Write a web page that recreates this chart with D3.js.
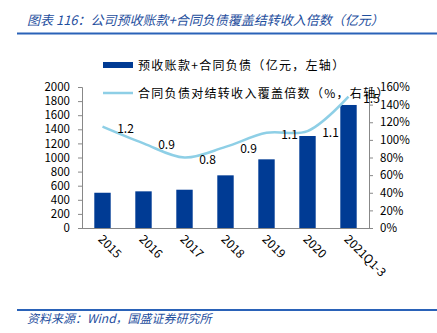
<!DOCTYPE html>
<html><head><meta charset="utf-8">
<script src="https://cdn.jsdelivr.net/npm/d3@7"></script>
<style>body{margin:0;background:#fff}svg{display:block}text{font-family:"Noto Sans CJK SC","DejaVu Sans",sans-serif}</style>
</head><body><svg id="c" width="437" height="333"></svg>
<script>
const categories = ["2015","2016","2017","2018","2019","2020","2021Q1-3"];
const barValues = [500, 520, 543, 747, 974, 1305, 1745];
const ratioValues = [115, 96, 80, 92, 108, 110, 149];
const ratioLabels = ["1.2","0.9","0.8","0.9","1.1","1.1","1.5"];
const leftTicks = [0,200,400,600,800,1000,1200,1400,1600,1800,2000];
const rightTicks = [0,20,40,60,80,100,120,140,160];
const title = "图表 116：公司预收账款+合同负债覆盖结转收入倍数（亿元）";
const source = "资料来源：Wind，国盛证券研究所";
const legendNames = ["预收账款+合同负债（亿元，左轴）","合同负债对结转收入覆盖倍数（%，右轴）"];

const svg = d3.select("#c");
const blue = "#1f4f9e", barColor = "#003b94", lineColor = "#8ecfe6";
const L = 82, R = 369, T = 87, B = 228;

// title and rules
svg.append("text").attr("x",27).attr("y",25).attr("fill",blue).attr("font-size",13)
  .attr("font-style","italic").text(title);
svg.append("line").attr("x1",17).attr("x2",437).attr("y1",33.5).attr("y2",33.5).attr("stroke","#2a62b8").attr("stroke-width",2);
svg.append("line").attr("x1",17).attr("x2",437).attr("y1",310).attr("y2",310).attr("stroke","#2a62b8").attr("stroke-width",2);
svg.append("text").attr("x",27).attr("y",323).attr("fill",blue).attr("font-size",12)
  .attr("font-style","italic").text(source);

const x = d3.scaleBand().domain(categories).range([L,R]).paddingInner(0.6).paddingOuter(0.3);
const yL = d3.scaleLinear().domain([0,2000]).range([B,T]);
const yR = d3.scaleLinear().domain([0,160]).range([B,T]);

// axes
const gL = svg.append("g").attr("transform",`translate(${L},0)`)
  .call(d3.axisLeft(yL).tickValues(leftTicks).tickSize(4).tickPadding(8).tickFormat(d3.format("d")));
const gR = svg.append("g").attr("transform",`translate(${R},0)`)
  .call(d3.axisRight(yR).tickValues(rightTicks).tickSize(4).tickPadding(7).tickFormat(d=>d+"%"));
const gB = svg.append("g").attr("transform",`translate(0,${B})`)
  .call(d3.axisBottom(x).tickSize(0).tickPadding(0));
[gL,gR,gB].forEach(g=>{
  g.selectAll(".domain").attr("stroke","#888");
  g.selectAll(".tick line").attr("stroke","#888");
  g.selectAll("text").attr("font-size",11.5).attr("fill","#000").attr("font-family","Tahoma,'DejaVu Sans',sans-serif");
});
gB.selectAll("text").attr("font-size",12);
gB.selectAll(".domain").attr("d",`M${L},0.5H${R}`);
gB.selectAll(".tick text").attr("text-anchor","start").attr("dy",0).attr("y",0)
  .attr("transform","translate(-5,12) rotate(45)");

// bars
svg.append("g").selectAll("rect").data(barValues).join("rect")
  .attr("x",(d,i)=>x(categories[i])).attr("width",x.bandwidth())
  .attr("y",d=>yL(d)).attr("height",d=>B-yL(d)).attr("fill",barColor);

// line
const cx = i => x(categories[i]) + x.bandwidth()/2;
const line = d3.line().x((d,i)=>cx(i)).y(d=>yR(d)).curve(d3.curveCatmullRom.alpha(0.5));
svg.append("path").datum(ratioValues).attr("d",line).attr("fill","none")
  .attr("stroke",lineColor).attr("stroke-width",2.5);

// labels
svg.append("g").selectAll("text").data(ratioValues).join("text")
  .attr("x",(d,i)=>cx(i)+23).attr("y",d=>yR(d)+6)
  .attr("text-anchor","middle").attr("font-size",12).attr("font-family","Tahoma,'DejaVu Sans',sans-serif")
  .text((d,i)=>ratioLabels[i]);

// legend
const lg = svg.append("g");
lg.append("rect").attr("x",103).attr("y",62).attr("width",30).attr("height",6).attr("fill",barColor);
lg.append("line").attr("x1",103).attr("x2",133).attr("y1",93).attr("y2",93).attr("stroke",lineColor).attr("stroke-width",2.5);
lg.selectAll("text").data(legendNames).join("text")
  .attr("x",138).attr("y",(d,i)=>i?97.5:69.5).attr("font-size",12).attr("letter-spacing",1.3)
  .attr("fill","#000").text(d=>d);
</script></body></html>
